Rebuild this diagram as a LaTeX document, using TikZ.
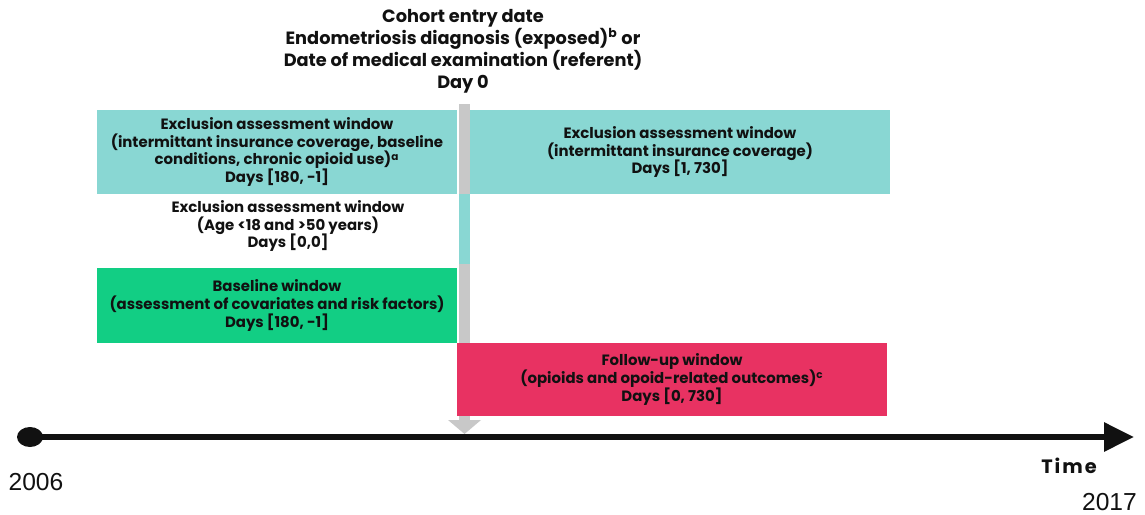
\documentclass[tikz,border=0pt]{standalone}
\usepackage{fontspec}
\setmainfont{Poppins}
\newfontfamily\yearfont{Liberation Sans}
\newfontfamily\timefont[LetterSpace=10]{Poppins}
\usetikzlibrary{arrows.meta, positioning, calc}

\definecolor{exclteal}{RGB}{137,215,211}
\definecolor{basegreen}{RGB}{18,206,132}
\definecolor{followred}{RGB}{232,50,98}
\definecolor{bargray}{RGB}{200,200,200}
\definecolor{inkblack}{RGB}{17,17,17}

\begin{document}
\begin{tikzpicture}[x=0.02cm, y=-0.02cm,
    windowtext/.style={align=center, text=inkblack, font=\fontsize{8.5}{10.2}\selectfont\bfseries},
    windowbox/.style={windowtext, inner sep=0pt, minimum width=7.2cm},
    yearlabel/.style={text=inkblack, font=\yearfont\fontsize{14}{16}\selectfont}]
    \useasboundingbox (0,0) rectangle (1145,514);
    % day 0 bar
    \fill[bargray] (459,104) rectangle (470,421);
    \fill[exclteal] (459,194) rectangle (470,264);
    \fill[bargray] (448,420) -- (481,420) -- (464.5,434) -- cycle;
    % windows
    \node[windowbox, fill=exclteal, minimum height=1.68cm] (exclpre) at (277,152) {Exclusion assessment window\\(intermittant insurance coverage, baseline\\conditions, chronic opioid use)\textsuperscript{a}\\Days [180, -1]};
    \node[windowbox, fill=exclteal, minimum height=1.68cm, minimum width=8.4cm] (exclpost) at (680,152) {Exclusion assessment window\\(intermittant insurance coverage)\\Days [1, 730]};
    \node[windowtext] (exclage) at (288,226) {Exclusion assessment window\\(Age <18 and >50 years)\\Days [0,0]};
    \node[windowbox, fill=basegreen, minimum height=1.5cm] (baseline) at (277,305.5) {Baseline window\\(assessment of covariates and risk factors)\\Days [180, -1]};
    \node[windowbox, fill=followred, minimum height=1.46cm, minimum width=8.6cm] (followup) at (672,379.5) {Follow-up window\\(opioids and opoid-related outcomes)\textsuperscript{c}\\Days [0, 730]};
    % cohort entry
    \node[align=center, text=inkblack, font=\fontsize{10.1}{12.5}\selectfont\bfseries] (entry) at (463,51) {Cohort entry date\\Endometriosis diagnosis (exposed)\textsuperscript{b} or\\Date of medical examination (referent)\\Day 0};
    % time axis
    \coordinate (tstart) at (30,437);
    \coordinate (tend) at (1134,437);
    \draw[inkblack, line width=3.4pt, -{Triangle[length=0.6cm, width=0.56cm]}] (tstart) -- (tend);
    \fill[inkblack] (tstart) ellipse [x radius=13, y radius=10];
    \node[text=inkblack, font=\timefont\fontsize{11}{13}\selectfont\bfseries] (time) at (1069,466) {Time};
    \node[yearlabel] (ystart) at (36,482) {2006};
    \node[yearlabel, anchor=east] (yend) at (1143,502) {2017};
\end{tikzpicture}
\end{document}
